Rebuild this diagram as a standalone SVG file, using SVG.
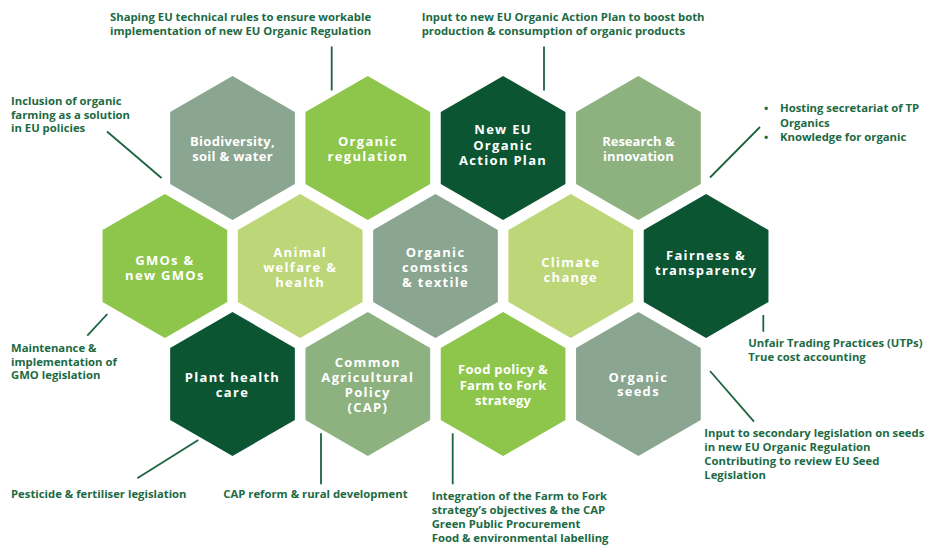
<svg xmlns="http://www.w3.org/2000/svg" xmlns:xlink="http://www.w3.org/1999/xlink" width="932" height="545" viewBox="0 0 932 545">
<style>
.hx text{font-family:"Open Sans","Liberation Sans",sans-serif;font-weight:700;font-size:13px;fill:#ffffff;text-anchor:middle}
.ws text{letter-spacing:1.3px}
.nt text{letter-spacing:0.3px}
.ann{font-family:"Open Sans","Liberation Sans",sans-serif;font-weight:700;font-size:11.3px;fill:#1c6a43}
.ln{stroke:#1c6440;stroke-width:1.8;fill:none}
.grey{fill:#8aa590}
.bright{fill:#8dc64a}
.dark{fill:#0b5533}
.sage{fill:#8db27f}
.light{fill:#bdd677}
</style>
<defs>
<path id="hex" d="M0,-72 L62.35,-36 L62.35,36 L0,72 L-62.35,36 L-62.35,-36 Z"/>
</defs>
<rect width="932" height="545" fill="#ffffff"/>

<g id="connectors">
<line class="ln" x1="331.7" y1="46.5" x2="331.7" y2="90.5"/>
<line class="ln" x1="544" y1="46.5" x2="544" y2="90.5"/>
<line class="ln" x1="107" y1="131.5" x2="161.5" y2="178"/>
<line class="ln" x1="760" y1="127" x2="710" y2="177.5"/>
<line class="ln" x1="107.3" y1="314" x2="87.3" y2="335.7"/>
<line class="ln" x1="763.3" y1="315" x2="763.3" y2="331.7"/>
<line class="ln" x1="710" y1="371" x2="754" y2="421.7"/>
<line class="ln" x1="452.7" y1="433.3" x2="452.7" y2="484.3"/>
<line class="ln" x1="321" y1="433.3" x2="321" y2="484.3"/>
<line class="ln" x1="198.3" y1="440" x2="137.3" y2="478.3"/>
</g>

<g id="biodiversity" class="hx nt" transform="translate(232.5,148)">
<use xlink:href="#hex" class="grey"/>
<text y="-2">Biodiversity,<tspan x="0" dy="15">soil &amp; water</tspan></text>
</g>
<g id="organic-regulation" class="hx ws" transform="translate(367.8,148)">
<use xlink:href="#hex" class="bright"/>
<text y="-2">Organic<tspan x="0" dy="15">regulation</tspan></text>
</g>
<g id="action-plan" class="hx ws" transform="translate(503.1,148)">
<use xlink:href="#hex" class="dark"/>
<text y="-14">New EU<tspan x="0" dy="15.5">Organic</tspan><tspan x="0" dy="15.5">Action Plan</tspan></text>
</g>
<g id="research" class="hx" transform="translate(638.4,148)">
<use xlink:href="#hex" class="sage"/>
<text y="-2.5">Research &amp;<tspan x="0" dy="15">innovation</tspan></text>
</g>

<g id="gmos" class="hx ws" transform="translate(164.9,266)">
<use xlink:href="#hex" class="bright"/>
<text y="-1.5">GMOs &amp;<tspan x="0" dy="15">new GMOs</tspan></text>
</g>
<g id="animal-welfare" class="hx ws" transform="translate(300.2,266)">
<use xlink:href="#hex" class="light"/>
<text y="-9.5">Animal<tspan x="0" dy="15">welfare &amp;</tspan><tspan x="0" dy="15">health</tspan></text>
</g>
<g id="cosmetics" class="hx ws" transform="translate(435.5,266)">
<use xlink:href="#hex" class="grey"/>
<text y="-9.5">Organic<tspan x="0" dy="15">comstics</tspan><tspan x="0" dy="15">&amp; textile</tspan></text>
</g>
<g id="climate" class="hx ws" transform="translate(570.8,266)">
<use xlink:href="#hex" class="light"/>
<text y="1">Climate<tspan x="0" dy="15">change</tspan></text>
</g>
<g id="fairness" class="hx ws" transform="translate(706.1,266)">
<use xlink:href="#hex" class="dark"/>
<text y="-6.5">Fairness &amp;<tspan x="0" dy="15">transparency</tspan></text>
</g>

<g id="plant-health" class="hx ws" transform="translate(232.5,384)">
<use xlink:href="#hex" class="dark"/>
<text y="-2.5">Plant health<tspan x="0" dy="15.5">care</tspan></text>
</g>
<g id="cap" class="hx ws" transform="translate(367.8,384)">
<use xlink:href="#hex" class="sage"/>
<text y="-17.5">Common<tspan x="0" dy="15">Agricultural</tspan><tspan x="0" dy="15.5">Policy</tspan><tspan x="0" dy="15">(CAP)</tspan></text>
</g>
<g id="food-policy" class="hx nt" transform="translate(503.1,384)">
<use xlink:href="#hex" class="bright"/>
<text y="-10">Food policy &amp;<tspan x="0" dy="15.5">Farm to Fork</tspan><tspan x="0" dy="15">strategy</tspan></text>
</g>
<g id="organic-seeds" class="hx ws" transform="translate(638.4,384)">
<use xlink:href="#hex" class="grey"/>
<text y="-2.5">Organic<tspan x="0" dy="14.5">seeds</tspan></text>
</g>

<g id="annotations">
<text class="ann" x="110" y="20.5">Shaping EU technical rules to ensure workable<tspan x="110" dy="14.2">implementation of new EU Organic Regulation</tspan></text>
<text class="ann" x="421.7" y="20.5">Input to new EU Organic Action Plan to boost both<tspan x="421.7" dy="14.2">production &amp; consumption of organic products</tspan></text>
<text class="ann" x="11" y="104.5">Inclusion of organic<tspan x="11" dy="14">farming as a solution</tspan><tspan x="11" dy="13.8">in EU policies</tspan></text>
<text class="ann" x="764" y="112">•<tspan x="780">Hosting secretariat of TP</tspan><tspan x="780" dy="14.5">Organics</tspan><tspan x="764" dy="14.5">•</tspan><tspan x="780">Knowledge for organic</tspan></text>
<text class="ann" x="11" y="351.5">Maintenance &amp;<tspan x="11" dy="14">implementation of</tspan><tspan x="11" dy="13.8">GMO legislation</tspan></text>
<text class="ann" x="748.3" y="346.7">Unfair Trading Practices (UTPs)<tspan x="748.3" dy="14">True cost accounting</tspan></text>
<text class="ann" x="704.3" y="437">Input to secondary legislation on seeds<tspan x="704.3" dy="14">in new EU Organic Regulation</tspan><tspan x="704.3" dy="14">Contributing to review EU Seed</tspan><tspan x="704.3" dy="14.3">Legislation</tspan></text>
<text class="ann" x="431.7" y="500">Integration of the Farm to Fork<tspan x="431.7" dy="14">strategy’s objectives &amp; the CAP</tspan><tspan x="431.7" dy="14">Green Public Procurement</tspan><tspan x="431.7" dy="14">Food &amp; environmental labelling</tspan></text>
<text class="ann" x="223.3" y="498.3">CAP reform &amp; rural development</text>
<text class="ann" x="11" y="498.3">Pesticide &amp; fertiliser legislation</text>
</g>
</svg>
